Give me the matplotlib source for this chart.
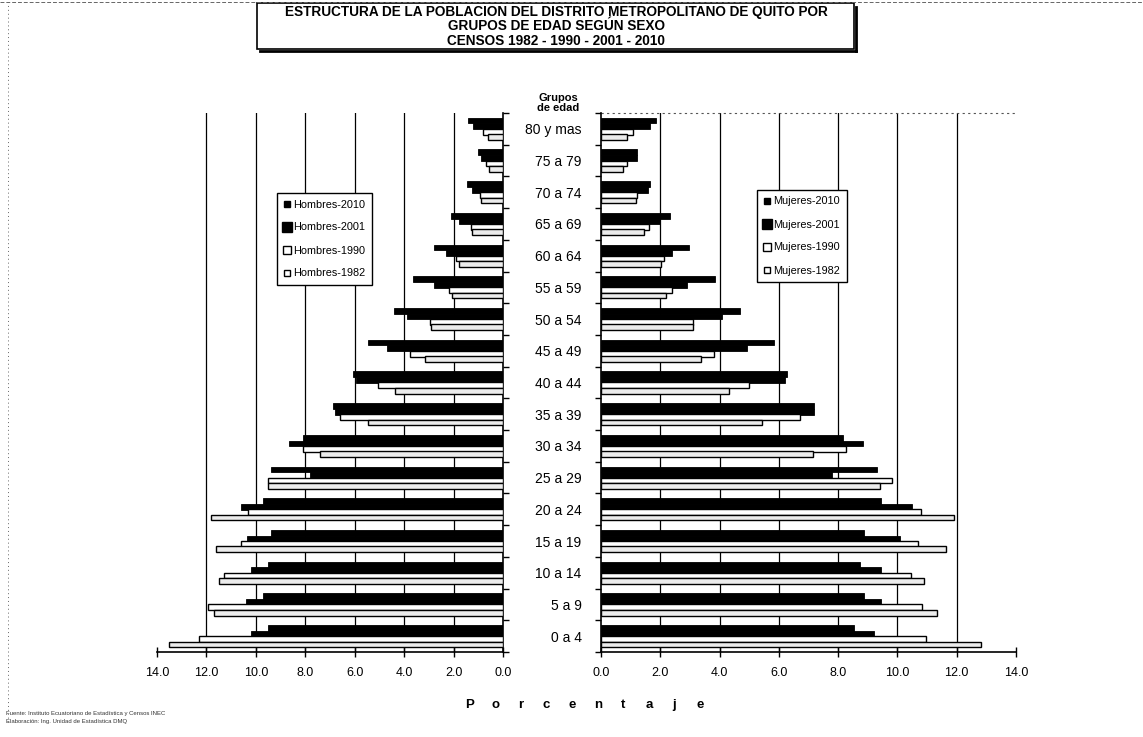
import numpy as np
import matplotlib.pyplot as plt
from matplotlib.lines import Line2D
from matplotlib.patches import Rectangle

plt.rcParams['font.family'] = ['Liberation Sans', 'DejaVu Sans']

# grupos de edad, de abajo hacia arriba
grupos = ['0 a 4', '5 a 9', '10 a 14', '15 a 19', '20 a 24', '25 a 29', '30 a 34',
          '35 a 39', '40 a 44', '45 a 49', '50 a 54', '55 a 59', '60 a 64',
          '65 a 69', '70 a 74', '75 a 79', '80 y mas']

hombres_2010 = [9.5, 9.7, 9.5, 9.4, 9.7, 9.4, 8.1, 6.87, 6.05, 5.45, 4.4, 3.65, 2.8, 2.1, 1.45, 1.0, 1.4]
hombres_2001 = [10.2, 10.4, 10.2, 10.35, 10.6, 7.8, 8.65, 6.8, 5.95, 4.7, 3.9, 2.8, 2.3, 1.8, 1.25, 0.9, 1.2]
hombres_1990 = [12.3, 11.95, 11.3, 10.6, 10.3, 9.5, 8.1, 6.6, 5.05, 3.75, 2.95, 2.2, 1.9, 1.3, 0.95, 0.7, 0.8]
hombres_1982 = [13.5, 11.7, 11.5, 11.6, 11.8, 9.5, 7.4, 5.45, 4.35, 3.15, 2.9, 2.07, 1.8, 1.25, 0.9, 0.55, 0.6]

mujeres_2010 = [8.55, 8.86, 8.75, 8.86, 9.46, 9.3, 8.15, 7.2, 6.26, 5.83, 4.68, 3.84, 2.97, 2.32, 1.65, 1.2, 1.85]
mujeres_2001 = [9.22, 9.46, 9.43, 10.1, 10.5, 7.8, 8.83, 7.2, 6.2, 4.94, 4.07, 2.9, 2.4, 2.0, 1.6, 1.2, 1.65]
mujeres_1990 = [10.97, 10.84, 10.47, 10.7, 10.8, 9.8, 8.28, 6.7, 4.98, 3.8, 3.1, 2.4, 2.12, 1.63, 1.22, 0.88, 1.08]
mujeres_1982 = [12.83, 11.35, 10.88, 11.65, 11.9, 9.4, 7.15, 5.42, 4.32, 3.37, 3.1, 2.2, 2.02, 1.45, 1.18, 0.73, 0.88]

xticks = [0, 2, 4, 6, 8, 10, 12, 14]

W, H = 1143, 737
fig = plt.figure(figsize=(W / 100, H / 100), dpi=100)

ax_h = fig.add_axes([157 / W, 1 - 652 / H, 346 / W, 539 / H])
ax_m = fig.add_axes([601 / W, 1 - 652 / H, 415 / W, 539 / H])

y = np.arange(len(grupos))
alto = 0.18
offs = [0.26, 0.08, -0.09, -0.26]
estilos = [dict(color='black', edgecolor='black', linewidth=0.6),
           dict(color='black', edgecolor='black', linewidth=0.6),
           dict(color='white', edgecolor='black', linewidth=1.0),
           dict(color='#ececec', edgecolor='black', linewidth=1.0)]

series_h = [hombres_2010, hombres_2001, hombres_1990, hombres_1982]
series_m = [mujeres_2010, mujeres_2001, mujeres_1990, mujeres_1982]

for vals, off, st in zip(series_h, offs, estilos):
    ax_h.barh(y + off, vals, height=alto, zorder=3, **st)
for vals, off, st in zip(series_m, offs, estilos):
    ax_m.barh(y + off, vals, height=alto, zorder=3, **st)

for ax in (ax_h, ax_m):
    ax.set_ylim(-0.5, len(grupos) - 0.5)
    ax.set_xticks(xticks)
    ax.set_xticklabels(['%.1f' % v for v in xticks], fontsize=9)
    ax.tick_params(axis='x', direction='inout', length=7, width=1, pad=7)
    for g in xticks[1:-1]:
        ax.axvline(g, color='black', linewidth=0.9, zorder=1)
    ax.spines['top'].set_visible(False)
    ax.spines['bottom'].set_linewidth(1.2)
    ax.set_yticks(np.arange(len(grupos) + 1) - 0.5, minor=True)
    ax.tick_params(axis='y', which='minor', length=4, width=1)
    ax.tick_params(axis='y', which='major', length=0)

ax_h.set_xlim(14, 0)
ax_h.spines['left'].set_visible(False)
ax_h.spines['right'].set_linewidth(1.2)
ax_h.yaxis.tick_right()
ax_h.set_yticks(y)
ax_h.set_yticklabels([])

ax_m.set_xlim(0, 14)
ax_m.spines['right'].set_visible(False)
ax_m.spines['left'].set_linewidth(1.2)
ax_m.set_yticks(y)
ax_m.set_yticklabels(grupos, fontsize=10)
for lab in ax_m.get_yticklabels():
    lab.set_horizontalalignment('right')
ax_m.tick_params(axis='y', which='major', pad=14)

# linea punteada superior del area derecha
ax_m.axhline(len(grupos) - 0.5, color='#555555', linewidth=0.8,
             linestyle=(0, (2, 3)), clip_on=False)

fig.text(558 / W, 1 - 103 / H, 'Grupos\nde edad', ha='center', va='center',
         fontsize=8, fontweight='bold', linespacing=1.0)

# titulo en recuadro (con sombra a la derecha y abajo)
fig.add_artist(Rectangle((257 / W, 1 - 49 / H), 597 / W, 46 / H, transform=fig.transFigure,
                         facecolor='white', edgecolor='black', linewidth=1.2))
fig.add_artist(Line2D([260 / W, 856 / W], [1 - 50.5 / H, 1 - 50.5 / H], transform=fig.transFigure,
                      color='black', linewidth=2.0))
fig.add_artist(Line2D([855.5 / W, 855.5 / W], [1 - 50.5 / H, 1 - 7 / H], transform=fig.transFigure,
                      color='black', linewidth=2.0))
fig.text(556 / W, 1 - 26.5 / H,
         'ESTRUCTURA DE LA POBLACION DEL DISTRITO METROPOLITANO DE QUITO POR\n'
         'GRUPOS DE EDAD SEGÚN SEXO\nCENSOS 1982 - 1990 - 2001 - 2010',
         ha='center', va='center', fontsize=9.8, fontweight='bold', linespacing=1.08)

# leyendas
tam = [4, 6.5, 6, 5]
rell = ['black', 'black', 'white', 'white']


def manejadores(nombre):
    return [Line2D([], [], marker='s', linestyle='', markersize=s, markerfacecolor=f,
                   markeredgecolor='black', markeredgewidth=1, label=nombre + '-' + a)
            for s, f, a in zip(tam, rell, ['2010', '2001', '1990', '1982'])]


for nombre, x0, y0 in [('Hombres', 277, 193), ('Mujeres', 757, 190)]:
    leg = fig.legend(handles=manejadores(nombre), loc='upper left',
                     bbox_to_anchor=(x0 / W, 1 - y0 / H), fontsize=7.8,
                     frameon=True, fancybox=False, edgecolor='black', framealpha=1,
                     labelspacing=1.2, handlelength=0.6, handletextpad=0.3,
                     borderpad=0.6, borderaxespad=0)
    leg.get_frame().set_linewidth(1.0)

# Porcentaje con letras espaciadas
letras = 'Porcentaje'
for xx, c in zip(np.linspace(470, 700, len(letras)), letras):
    fig.text(xx / W, 1 - 705 / H, c, ha='center', va='center', fontsize=9.5,
             fontweight='bold')

fig.text(6 / W, 1 - 714 / H, 'Fuente: Instituto Ecuatoriano de Estadística y Censos INEC',
         fontsize=4.3, ha='left', va='center', color='#333333')
fig.text(6 / W, 1 - 722 / H, 'Elaboración: Ing. Unidad de Estadística DMQ',
         fontsize=4.3, ha='left', va='center', color='#333333')

# bordes punteados del escaneo
fig.add_artist(Line2D([8 / W, 8 / W], [0.02, 0.995], transform=fig.transFigure,
                      color='#666666', linewidth=0.7, linestyle=(0, (1, 3))))
fig.add_artist(Line2D([0, 1], [1 - 2 / H, 1 - 2 / H], transform=fig.transFigure,
                      color='#666666', linewidth=0.7, linestyle=(0, (4, 2))))

fig.savefig('out.png', dpi=100)
